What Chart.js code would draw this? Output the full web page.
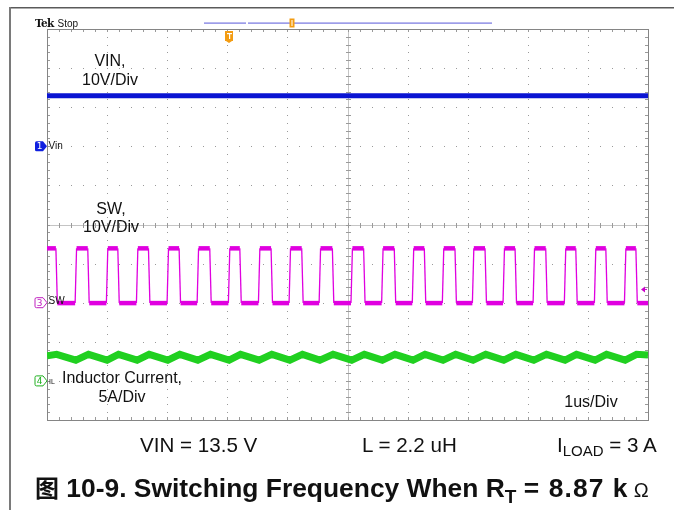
<!DOCTYPE html>
<html>
<head>
<meta charset="utf-8">
<script src="https://cdn.jsdelivr.net/npm/chart.js@4.4.1/dist/chart.umd.min.js"></script>
<style>
  html, body { margin: 0; padding: 0; background: #fff; }
  #wrap { position: relative; width: 674px; height: 510px; overflow: hidden; font-family: "Liberation Sans", Arial, sans-serif; color: #111; }
  #c-scope { position: absolute; left: 0; top: 0; }
  .t { position: absolute; white-space: nowrap; line-height: 1; }
  .lbl { font-size: 16px; text-align: center; width: 140px; }
  .cond { font-size: 20.6px; }
  .cond sub { font-size: 15px; vertical-align: -4px; line-height: 0; }
  .small { font-size: 10px; }
  #caption { font-size: 26.4px; font-weight: bold; left: 35px; top: 474.5px; }
  #caption .cjk { font-family: "Noto Sans CJK SC", sans-serif; font-weight: bold; font-size: 24px; }
  #caption sub { font-size: 19px; vertical-align: -6px; line-height: 0; }
  #caption .eq { letter-spacing: 1.1px; }
  #caption .ohm { font-weight: normal; font-size: 20px; margin-left: 5px; }
</style>
</head>
<body>
<div id="wrap">
  <canvas id="c-scope" width="674" height="510"></canvas>

  <div class="t small" style="left:35px; top:17.5px;"><b style="font-family:'DejaVu Serif',serif;font-size:10.5px;letter-spacing:-0.6px;">Tek</b> <span style="margin-left:1px;">Stop</span></div>

  <div class="t small" style="left:48.5px; top:141px;">Vin</div>
  <div class="t small" style="left:48.5px; top:296px;">SW</div>
  <div class="t" style="left:49px; top:378px; font-size:7px;">IL</div>

  <div class="t lbl" style="left:40px; top:52.5px;">VIN,</div>
  <div class="t lbl" style="left:40px; top:71.5px;">10V/Div</div>
  <div class="t lbl" style="left:41px; top:201px;">SW,</div>
  <div class="t lbl" style="left:41px; top:219px;">10V/Div</div>
  <div class="t lbl" style="left:52px; top:370px;">Inductor Current,</div>
  <div class="t lbl" style="left:52px; top:389px;">5A/Div</div>
  <div class="t lbl" style="left:521px; top:394px;">1us/Div</div>

  <div class="t cond" style="left:140px; top:434.5px;">VIN = 13.5 V</div>
  <div class="t cond" style="left:362px; top:434.5px;">L = 2.2 uH</div>
  <div class="t cond" style="left:557px; top:434.5px;">I<sub>LOAD</sub> = 3 A</div>

  <div class="t" id="caption"><span class="cjk">图</span> 10-9. Switching Frequency When R<sub>T</sub> <span class="eq">= 8.87 k</span><span class="ohm">Ω</span></div>
</div>

<script>
// scope settings: 1 us/div horizontally, 10 divisions each way
const timeMin = 0;
const timeMax = 10;          // us
const divMin = -5;
const divMax = 5;

// channel setup (units per div, ground offset in div)
const ch1Scale = 10, ch1Offset = 2;    // VIN, 10 V/div
const ch3Scale = 10, ch3Offset = -2;   // SW, 10 V/div
const ch4Scale = 5,  ch4Offset = -4;   // IL, 5 A/div

// VIN trace (V)
const vinTimes = [0, 10];
const vinVolts = [12.9, 12.9];

// SW trace: edge times (us) and levels (V)
const swRise = [0.48, 1.00, 1.50, 2.01, 2.51, 3.03, 3.53, 4.04, 4.54, 5.07,
                5.58, 6.09, 6.59, 7.09, 7.60, 8.10, 8.62, 9.12, 9.62];
const swFall = [0.16, 0.69, 1.19, 1.70, 2.21, 2.72, 3.22, 3.74, 4.25, 4.76,
                5.28, 5.79, 6.29, 6.80, 7.30, 7.80, 8.31, 8.81, 9.31, 9.81];
const swHigh = 13.9;
const swLow = -0.1;

// inductor current (A): valleys at SW rise, peaks at SW fall
const ilPeak = 3.40;
const ilValley = 2.65;
const ilStart = 3.20;
const ilEnd = 3.30;

// trigger
const trigTime = 3.03;   // us
const trigLevel = 3.4;   // V on SW

const toDiv = (v, scale, off) => v / scale + off;

// build SW waveform from edges
const swPoints = [{ x: timeMin, y: toDiv(swHigh, ch3Scale, ch3Offset) }];
const edges = [];
swRise.forEach(t => edges.push({ t, up: true }));
swFall.forEach(t => edges.push({ t, up: false }));
edges.sort((a, b) => a.t - b.t);
edges.forEach(e => {
    const from = e.up ? swLow : swHigh;
    const to = e.up ? swHigh : swLow;
    swPoints.push({ x: e.t - 0.012, y: toDiv(from, ch3Scale, ch3Offset) });
    swPoints.push({ x: e.t + 0.012, y: toDiv(to, ch3Scale, ch3Offset) });
});
swPoints.push({ x: timeMax, y: toDiv(swLow, ch3Scale, ch3Offset) });

// IL: triangle through the same edge times
const ilPoints = [{ x: timeMin, y: toDiv(ilStart, ch4Scale, ch4Offset) }];
edges.forEach(e => ilPoints.push({ x: e.t, y: toDiv(e.up ? ilValley : ilPeak, ch4Scale, ch4Offset) }));
ilPoints.push({ x: timeMax, y: toDiv(ilEnd, ch4Scale, ch4Offset) });

const vinPoints = vinTimes.map((t, i) => ({ x: t, y: toDiv(vinVolts[i], ch1Scale, ch1Offset) }));

// graticule: dotted lines, centre cross and frame, all through the scales
const graticule = {
    id: 'graticule',
    beforeDatasetsDraw(chart) {
        const { ctx, chartArea: a, scales: { x, y } } = chart;
        ctx.save();
        // dotted major lines
        ctx.fillStyle = '#9a9a9a';
        for (let i = timeMin + 1; i < timeMax; i++) {
            if (i === 5) continue;
            const px = Math.round(x.getPixelForValue(i));
            for (let k = 1; k < 50; k++) {
                const py = Math.round(y.getPixelForValue(divMin + k * 0.2));
                ctx.fillRect(px, py, 1, 1);
            }
        }
        for (let j = divMin + 1; j < divMax; j++) {
            if (j === 0) continue;
            const py = Math.round(y.getPixelForValue(j));
            for (let k = 1; k < 50; k++) {
                const px = Math.round(x.getPixelForValue(timeMin + k * 0.2));
                ctx.fillRect(px, py, 1, 1);
            }
        }
        // centre cross
        const cx = Math.round(x.getPixelForValue(5)) + 0.5;
        const cy = Math.round(y.getPixelForValue(0)) + 0.5;
        ctx.strokeStyle = '#c4c4c4';
        ctx.lineWidth = 1;
        ctx.beginPath();
        ctx.moveTo(a.left, cy); ctx.lineTo(a.right, cy);
        ctx.moveTo(cx, a.top); ctx.lineTo(cx, a.bottom);
        ctx.stroke();
        ctx.strokeStyle = '#9a9a9a';
        ctx.beginPath();
        for (let k = 1; k < 50; k++) {
            const px = Math.round(x.getPixelForValue(timeMin + k * 0.2)) + 0.5;
            const py = Math.round(y.getPixelForValue(divMin + k * 0.2)) + 0.5;
            // ticks on the cross
            ctx.moveTo(px, cy - 2.5); ctx.lineTo(px, cy + 2.5);
            ctx.moveTo(cx - 2.5, py); ctx.lineTo(cx + 2.5, py);
            // ticks on the frame
            ctx.moveTo(px, a.top); ctx.lineTo(px, a.top + 3);
            ctx.moveTo(px, a.bottom); ctx.lineTo(px, a.bottom - 3);
            ctx.moveTo(a.left, py); ctx.lineTo(a.left + 3, py);
            ctx.moveTo(a.right, py); ctx.lineTo(a.right - 3, py);
        }
        ctx.stroke();
        // frame
        ctx.strokeStyle = '#858585';
        ctx.strokeRect(Math.round(a.left) + 0.5, Math.round(a.top) + 0.5,
            Math.round(a.right - a.left), Math.round(a.bottom - a.top));
        ctx.restore();
    }
};

// scope furniture: ground markers, trigger markers, record bar, page rules
function groundMarker(ctx, yPix, color, filled, label) {
    const x0 = 35, x1 = 43, tip = 47, h = 5;
    ctx.beginPath();
    ctx.moveTo(x0 + 1.5, yPix - h);
    ctx.lineTo(x1, yPix - h);
    ctx.lineTo(tip, yPix);
    ctx.lineTo(x1, yPix + h);
    ctx.lineTo(x0 + 1.5, yPix + h);
    ctx.quadraticCurveTo(x0, yPix + h, x0, yPix + h - 1.5);
    ctx.lineTo(x0, yPix - h + 1.5);
    ctx.quadraticCurveTo(x0, yPix - h, x0 + 1.5, yPix - h);
    ctx.closePath();
    if (filled) { ctx.fillStyle = color; ctx.fill(); }
    else { ctx.fillStyle = '#fff'; ctx.fill(); ctx.strokeStyle = color; ctx.lineWidth = 1; ctx.stroke(); }
    ctx.fillStyle = filled ? '#fff' : color;
    ctx.font = '9px "DejaVu Sans", sans-serif';
    ctx.textAlign = 'center';
    ctx.textBaseline = 'middle';
    ctx.fillText(label, x0 + 4.5, yPix + 0.5);
}

const furniture = {
    id: 'furniture',
    afterDraw(chart) {
        const { ctx, chartArea: a, scales: { x, y } } = chart;
        ctx.save();
        // page rules
        ctx.fillStyle = '#5a5a5a';
        ctx.fillRect(10, 7, 664, 1.5);
        ctx.fillStyle = '#7a7a7a';
        ctx.fillRect(9, 7, 2, 503);
        // record bar
        ctx.fillStyle = '#7474e0';
        ctx.fillRect(204, 22.5, 42, 1.2);
        ctx.fillRect(248, 22.5, 244, 1.2);
        ctx.fillStyle = '#f39c12';
        ctx.fillRect(289.5, 18.5, 5, 9);
        ctx.fillStyle = '#fff';
        ctx.fillRect(291.5, 20, 1, 6);
        // trigger time marker
        const tx = Math.round(x.getPixelForValue(trigTime));
        ctx.fillStyle = '#f39c12';
        ctx.fillRect(tx - 4, a.top + 2, 8, 10);
        ctx.beginPath();
        ctx.moveTo(tx - 3, a.top + 12); ctx.lineTo(tx + 3, a.top + 12); ctx.lineTo(tx, a.top + 14);
        ctx.fill();
        ctx.fillStyle = '#fff';
        ctx.fillRect(tx - 2, a.top + 4, 5, 1.2);
        ctx.fillRect(tx, a.top + 4, 1.2, 6);
        // trigger level marker
        const ty = y.getPixelForValue(toDiv(trigLevel, ch3Scale, ch3Offset));
        ctx.fillStyle = '#cc00cc';
        ctx.beginPath();
        ctx.moveTo(a.right - 7, ty); ctx.lineTo(a.right - 3, ty - 3); ctx.lineTo(a.right - 3, ty + 3);
        ctx.fill();
        ctx.fillRect(a.right - 4, ty - 0.5, 3, 1);
        // channel ground markers
        groundMarker(ctx, y.getPixelForValue(ch1Offset), '#1020e0', true, '1');
        groundMarker(ctx, y.getPixelForValue(ch3Offset), '#c020c0', false, '3');
        groundMarker(ctx, y.getPixelForValue(ch4Offset), '#20b020', false, '4');
        ctx.restore();
    }
};

const isFlat = c => Math.abs(c.p0.parsed.y - c.p1.parsed.y) < 1e-6;

new Chart(document.getElementById('c-scope'), {
    type: 'line',
    data: {
        datasets: [
            { label: 'VIN', data: vinPoints, borderColor: '#0a14d2', borderWidth: 5 },
            { label: 'SW', data: swPoints, borderColor: '#e000e0', borderWidth: 4,
              segment: { borderWidth: c => isFlat(c) ? 4.5 : 1.3 } },
            { label: 'IL', data: ilPoints, borderColor: '#20d020', borderWidth: 7 }
        ]
    },
    options: {
        responsive: false,
        animation: false,
        layout: { padding: { left: 47, right: 26, top: 29, bottom: 90 } },
        elements: { point: { radius: 0 }, line: { tension: 0, borderJoinStyle: 'miter' } },
        scales: {
            x: { type: 'linear', min: timeMin, max: timeMax, display: false },
            y: { type: 'linear', min: divMin, max: divMax, display: false }
        },
        plugins: { legend: { display: false }, tooltip: { enabled: false } }
    },
    plugins: [graticule, furniture]
});
</script>
</body>
</html>
